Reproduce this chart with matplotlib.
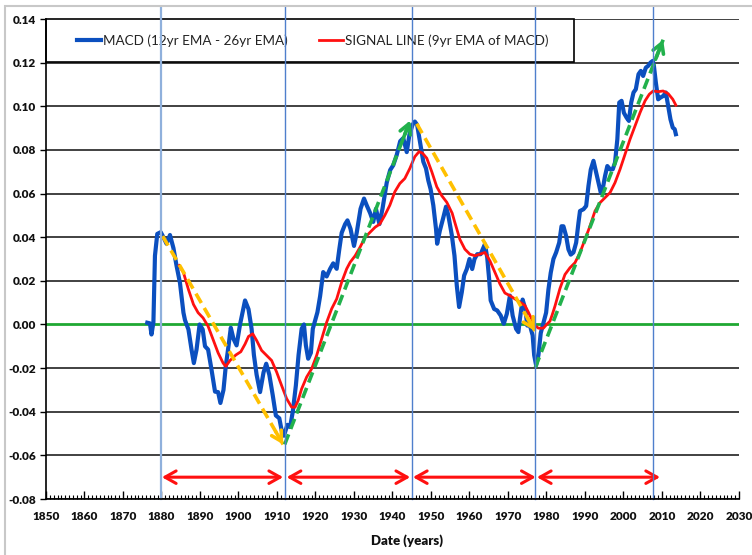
"""
MACD of the long-run series with its 9yr signal line, cycle markers and trend arrows.
Saves out.png (752x555).
"""

import matplotlib.pyplot as plt
from matplotlib.patches import Rectangle
from matplotlib.ticker import MultipleLocator, FormatStrFormatter

plt.rcParams["font.family"] = ["Lato", "DejaVu Sans"]
plt.rcParams["axes.unicode_minus"] = False

# MACD (12yr EMA - 26yr EMA)
macd_year = [
    1876.3, 1877.0, 1877.4, 1877.9, 1878.3, 1878.9, 1879.8, 1880.5, 1881.3, 1882.2,
    1883.1, 1883.9, 1884.8, 1885.7, 1886.1, 1887.0, 1887.8, 1888.4, 1889.1, 1889.9,
    1890.7, 1891.3, 1892.1, 1893.0, 1893.9, 1894.7, 1895.3, 1896.1, 1896.7, 1897.4,
    1898.0, 1898.7, 1899.5, 1900.4, 1901.7, 1902.6, 1903.4, 1904.0, 1904.7, 1905.6,
    1906.5, 1907.2, 1908.0, 1908.9, 1909.7, 1910.6, 1911.2, 1911.8, 1912.7, 1913.4,
    1914.1, 1914.9, 1915.6, 1916.4, 1917.0, 1917.5, 1918.1, 1918.8, 1919.3, 1919.9,
    1920.5, 1921.2, 1922.0, 1922.9, 1923.8, 1924.6, 1925.5, 1926.2, 1926.8, 1927.7,
    1928.3, 1929.1, 1930.0, 1930.7, 1931.7, 1932.6, 1933.3, 1934.2, 1935.0, 1935.7,
    1936.6, 1937.4, 1938.5, 1939.4, 1940.2, 1941.1, 1942.0, 1942.8, 1943.7, 1944.4,
    1945.2, 1945.8, 1946.4, 1947.1, 1948.0, 1948.7, 1949.3, 1949.9, 1950.6, 1951.3,
    1951.6, 1952.3, 1953.2, 1953.9, 1954.5, 1955.4, 1956.1, 1956.7, 1957.3, 1958.0,
    1958.6, 1959.3, 1960.0, 1960.7, 1961.3, 1962.0, 1962.9, 1964.0, 1964.6, 1965.1,
    1965.5, 1966.4, 1967.2, 1968.1, 1968.9, 1969.7, 1970.5, 1971.2, 1972.1, 1972.7,
    1973.1, 1973.8, 1974.5, 1975.0, 1975.7, 1976.4, 1976.8, 1977.3, 1977.9, 1978.5,
    1979.2, 1979.9, 1980.5, 1981.1, 1981.8, 1982.5, 1983.3, 1983.9, 1984.4, 1985.1,
    1985.7, 1986.3, 1987.0, 1987.7, 1988.3, 1988.7, 1989.6, 1990.3, 1990.9, 1991.5,
    1992.2, 1992.9, 1993.5, 1994.1, 1994.6, 1995.2, 1995.8, 1996.5, 1997.2, 1997.8,
    1998.4, 1998.9, 1999.5, 2000.1, 2000.8, 2001.4, 2002.0, 2002.6, 2003.2, 2003.9,
    2004.5, 2005.1, 2005.8, 2006.4, 2007.0, 2007.6, 2007.9, 2008.4, 2009.0, 2009.6,
    2010.3, 2011.0, 2011.6, 2012.2, 2012.8, 2013.3, 2013.6,
]
macd = [
    0.0008, 0.0005, -0.0046, 0.0010, 0.0315, 0.0415, 0.0423, 0.0400, 0.0370, 0.0410,
    0.0350, 0.0270, 0.0190, 0.0054, 0.0020, -0.0023, -0.0115, -0.0177, -0.0115, 0.0000,
    -0.0023, -0.0100, -0.0115, -0.0208, -0.0308, -0.0310, -0.0360, -0.0300, -0.0190, -0.0100,
    -0.0015, -0.0066, -0.0096, 0.0000, 0.0110, 0.0070, -0.0020, -0.0140, -0.0230, -0.0310,
    -0.0220, -0.0180, -0.0230, -0.0325, -0.0417, -0.0430, -0.0485, -0.0510, -0.0460, -0.0470,
    -0.0400, -0.0280, -0.0140, -0.0020, 0.0000, -0.0096, -0.0157, -0.0130, -0.0020, 0.0018,
    0.0056, 0.0130, 0.0240, 0.0220, 0.0255, 0.0280, 0.0255, 0.0347, 0.0420, 0.0460,
    0.0477, 0.0438, 0.0360, 0.0420, 0.0530, 0.0577, 0.0546, 0.0510, 0.0470, 0.0530,
    0.0460, 0.0530, 0.0650, 0.0708, 0.0730, 0.0777, 0.0840, 0.0854, 0.0790, 0.0870,
    0.0915, 0.0930, 0.0915, 0.0840, 0.0746, 0.0715, 0.0660, 0.0620, 0.0546, 0.0438,
    0.0370, 0.0430, 0.0490, 0.0540, 0.0500, 0.0410, 0.0315, 0.0178, 0.0080, 0.0148,
    0.0224, 0.0254, 0.0300, 0.0254, 0.0300, 0.0322, 0.0322, 0.0368, 0.0307, 0.0208,
    0.0110, 0.0071, 0.0064, 0.0041, 0.0003, 0.0049, 0.0132, 0.0041, -0.0020, -0.0035,
    0.0026, 0.0114, 0.0071, -0.0005, -0.0005, -0.0050, -0.0141, -0.0187, -0.0141, -0.0040,
    0.0008, 0.0054, 0.0160, 0.0237, 0.0300, 0.0330, 0.0375, 0.0450, 0.0450, 0.0405,
    0.0344, 0.0320, 0.0330, 0.0375, 0.0466, 0.0520, 0.0528, 0.0543, 0.0635, 0.0710,
    0.0750, 0.0696, 0.0650, 0.0604, 0.0620, 0.0680, 0.0726, 0.0711, 0.0711, 0.0742,
    0.0849, 0.1017, 0.1025, 0.0970, 0.0948, 0.0933, 0.1017, 0.1063, 0.1078, 0.1147,
    0.1162, 0.1139, 0.1177, 0.1185, 0.1200, 0.1208, 0.1185, 0.1109, 0.1032, 0.1040,
    0.1047, 0.1063, 0.1002, 0.0940, 0.0902, 0.0895, 0.0872,
]

# Signal line (9yr EMA of MACD)
signal_year = [
    1884.6, 1885.7, 1887.0, 1888.3, 1889.5, 1890.8, 1892.1, 1893.4, 1894.7, 1896.0,
    1896.7, 1897.8, 1899.3, 1900.6, 1901.7, 1902.6, 1903.7, 1904.7, 1906.0, 1907.3,
    1908.6, 1909.9, 1911.2, 1912.5, 1913.8, 1914.7, 1915.5, 1916.4, 1917.7, 1919.0,
    1920.3, 1921.6, 1922.9, 1924.2, 1925.5, 1926.8, 1928.1, 1929.0, 1930.3, 1931.6,
    1932.9, 1934.2, 1935.5, 1936.7, 1938.0, 1939.3, 1940.6, 1941.9, 1943.2, 1944.5,
    1945.8, 1946.9, 1947.8, 1948.9, 1950.2, 1951.5, 1952.8, 1954.1, 1955.5, 1956.2,
    1957.5, 1958.8, 1960.1, 1961.4, 1962.7, 1964.0, 1965.3, 1966.6, 1967.9, 1969.2,
    1970.5, 1971.8, 1973.1, 1974.4, 1975.3, 1976.1, 1977.0, 1977.9, 1979.2, 1980.2,
    1980.9, 1981.5, 1982.2, 1983.5, 1984.8, 1986.1, 1987.4, 1988.7, 1990.0, 1991.3,
    1992.6, 1993.9, 1995.2, 1996.5, 1997.8, 1999.1, 2000.4, 2001.7, 2003.0, 2004.3,
    2005.6, 2006.7, 2007.7, 2009.0, 2010.3, 2011.6, 2012.8, 2013.6,
]
signal = [
    0.0270, 0.0238, 0.0160, 0.0092, 0.0054, 0.0030, -0.0008, -0.0069, -0.0130, -0.0177,
    -0.0192, -0.0165, -0.0140, -0.0125, -0.0090, -0.0055, -0.0043, -0.0073, -0.0119, -0.0142,
    -0.0165, -0.0218, -0.0280, -0.0340, -0.0379, -0.0379, -0.0348, -0.0295, -0.0241, -0.0203,
    -0.0142, -0.0066, 0.0010, 0.0072, 0.0117, 0.0194, 0.0255, 0.0285, 0.0315, 0.0355,
    0.0400, 0.0423, 0.0446, 0.0460, 0.0500, 0.0546, 0.0608, 0.0646, 0.0669, 0.0715,
    0.0769, 0.0792, 0.0785, 0.0762, 0.0700, 0.0631, 0.0590, 0.0560, 0.0510, 0.0467,
    0.0390, 0.0345, 0.0322, 0.0315, 0.0322, 0.0330, 0.0292, 0.0239, 0.0186, 0.0144,
    0.0132, 0.0117, 0.0102, 0.0087, 0.0056, 0.0026, -0.0005, -0.0017, -0.0017, 0.0003,
    0.0015, 0.0045, 0.0084, 0.0165, 0.0229, 0.0260, 0.0283, 0.0329, 0.0390, 0.0451,
    0.0520, 0.0558, 0.0581, 0.0604, 0.0650, 0.0711, 0.0780, 0.0849, 0.0910, 0.0971,
    0.1025, 0.1055, 0.1070, 0.1067, 0.1070, 0.1058, 0.1032, 0.1005,
]

# cycle turning points (vertical markers) and the span arrows beneath
turn_years = [1880, 1912, 1945, 1977, 2007.6]
span_starts = [1880.1, 1912.5, 1945.3, 1977.5]
span_ends = [1911.6, 1944.6, 1977.2, 2009.5]
span_level = -0.070

# dashed trend arrows: start/end year and value, colour
trend_start_year = [1880.3, 1912.0, 1946.3, 1977.1]
trend_start_val = [0.0405, -0.0550, 0.0920, -0.0197]
trend_end_year = [1911.6, 1944.6, 1977.0, 2010.3]
trend_end_val = [-0.0550, 0.0935, -0.0030, 0.1305]
trend_colors = ["#FFC000", "#22B14C", "#FFC000", "#22B14C"]

BLUE = "#0B4FBF"
RED = "#FF1010"


def main() -> None:
    fig = plt.figure(figsize=(7.52, 5.55), dpi=100)
    ax = fig.add_axes([46 / 752, 56 / 555, 693 / 752, 480 / 555])

    # light outer frame of the original screenshot
    fig.add_artist(Rectangle((5 / 752, -0.02), 1.0, (555 - 6) / 555 + 0.02,
                             transform=fig.transFigure, fill=False,
                             edgecolor="#c8c8c8", lw=1.5))

    ax.set_xlim(1850, 2030)
    ax.set_ylim(-0.08, 0.14)

    # horizontal gridlines, zero line in green
    for v in [x / 100 for x in range(-8, 15, 2)]:
        if abs(v) < 1e-9:
            ax.axhline(v, color="#1FA832", lw=2.0, zorder=2)
        else:
            ax.axhline(v, color="#333333", lw=1.3, zorder=1)

    ax.plot(macd_year, macd, color=BLUE, lw=3.0, zorder=3, solid_joinstyle="round",
            label="MACD (12yr EMA - 26yr EMA)")
    ax.plot(signal_year, signal, color=RED, lw=2.0, zorder=3.5,
            label="SIGNAL LINE (9yr EMA of MACD)")

    # dashed trend arrows
    for x0, y0, x1, y1, c in zip(trend_start_year, trend_start_val,
                                 trend_end_year, trend_end_val, trend_colors):
        ax.plot([x0, x1], [y0, y1], color=c, lw=2.6, dashes=(3.0, 1.6), zorder=4)
        ax.annotate("", xy=(x1, y1), xytext=(x1 - (x1 - x0) * 0.06, y1 - (y1 - y0) * 0.06),
                    arrowprops=dict(arrowstyle="->,head_length=0.7,head_width=0.4",
                                    color=c, lw=2.6, shrinkA=0, shrinkB=0), zorder=4)

    # red double-headed span arrows
    for x0, x1 in zip(span_starts, span_ends):
        ax.annotate("", xy=(x1, span_level), xytext=(x0, span_level),
                    arrowprops=dict(arrowstyle="<->,head_length=0.8,head_width=0.45",
                                    color=RED, lw=2.2, shrinkA=0, shrinkB=0), zorder=4)

    # legend: frame spans from the 0.12 gridline to the top of the plot
    box_w = 528 / 693
    box_h = 43 / 480
    ax.add_patch(Rectangle((0, 1 - box_h), box_w, box_h, transform=ax.transAxes,
                           facecolor="white", edgecolor="black", lw=1.2, zorder=5,
                           clip_on=False))
    leg = ax.legend(loc="center", bbox_to_anchor=(0.004, 1 - box_h, box_w, box_h),
                    ncol=2, frameon=False, fontsize=9.7, handlelength=1.78,
                    handletextpad=0.1, columnspacing=2.37, borderaxespad=0)
    leg.set_zorder(6)
    for t in leg.get_texts():
        t.set_color("#222222")

    # vertical cycle markers, drawn over everything and up to the top of the image
    for i, yr in enumerate(turn_years):
        ax.plot([yr, yr], [0, 1.025], transform=ax.get_xaxis_transform(),
                color="#8fb0dc" if i == 0 else "#4f7fcc",
                lw=1.6 if i == 0 else 1.0, zorder=7, clip_on=False)

    # axes styling
    for side in ["top", "right"]:
        ax.spines[side].set_visible(False)
    for side in ["left", "bottom"]:
        ax.spines[side].set_color("black")
        ax.spines[side].set_linewidth(1.2)
        ax.spines[side].set_zorder(8)

    ax.xaxis.set_major_locator(MultipleLocator(10))
    ax.xaxis.set_minor_locator(MultipleLocator(1))
    ax.yaxis.set_major_locator(MultipleLocator(0.02))
    ax.yaxis.set_major_formatter(FormatStrFormatter("%.2f"))
    ax.tick_params(axis="x", which="major", direction="in", length=6, width=1.0, pad=9,
                   labelsize=8.5)
    ax.tick_params(axis="x", which="minor", direction="in", length=3, width=0.8)
    ax.tick_params(axis="y", which="major", direction="out", length=4, width=1.0, pad=3,
                   labelsize=8.5)
    for lab in ax.get_xticklabels() + ax.get_yticklabels():
        lab.set_fontweight("heavy")
        lab.set_color("#111111")

    fig.text(407 / 752, 1 - 541 / 555, "Date (years)", ha="center", va="center",
             fontsize=9.5, fontweight="heavy", color="#111111")

    fig.savefig("out.png", dpi=100)
    plt.close(fig)


if __name__ == "__main__":
    main()
